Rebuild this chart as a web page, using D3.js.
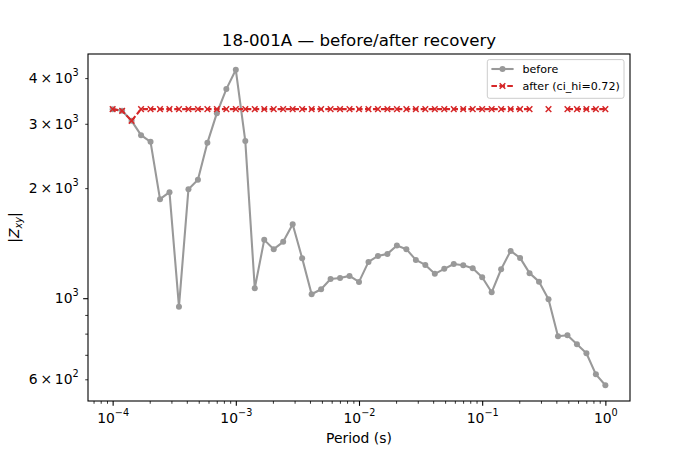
<!DOCTYPE html>
<html lang="en">
<head>
<meta charset="UTF-8">
<script src="https://d3js.org/d3.v7.min.js"></script>
<title>18-001A before/after recovery</title>
<style>
  body { margin: 0; background: #fff; }
  svg text { font-family: "DejaVu Sans", sans-serif; fill: #000; }
</style>
</head>
<body>
<script>
// periods (s), 13 per decade
var periods = [
  1.000e-4, 1.194e-4, 1.425e-4, 1.701e-4, 2.031e-4, 2.424e-4, 2.894e-4, 3.455e-4, 4.125e-4, 4.924e-4, 5.878e-4, 7.017e-4, 8.377e-4,
  1.000e-3, 1.194e-3, 1.425e-3, 1.701e-3, 2.031e-3, 2.424e-3, 2.894e-3, 3.455e-3, 4.125e-3, 4.924e-3, 5.878e-3, 7.017e-3, 8.377e-3,
  1.000e-2, 1.194e-2, 1.425e-2, 1.701e-2, 2.031e-2, 2.424e-2, 2.894e-2, 3.455e-2, 4.125e-2, 4.924e-2, 5.878e-2, 7.017e-2, 8.377e-2,
  1.000e-1, 1.194e-1, 1.425e-1, 1.701e-1, 2.031e-1, 2.424e-1, 2.894e-1, 3.455e-1, 4.125e-1, 4.924e-1, 5.878e-1, 7.017e-1, 8.377e-1,
  1.000
];
var before = [
  3290, 3255, 3057, 2793, 2678, 1866, 1950, 948, 1987, 2108, 2661, 3208, 3733,
  4216, 2690, 1065, 1444, 1362, 1426, 1594, 1287, 1025, 1058, 1129, 1136, 1151,
  1108, 1257, 1305, 1322, 1393, 1362, 1273, 1233, 1166, 1203, 1240, 1231, 1208,
  1141, 1038, 1200, 1347, 1289, 1171, 1110, 994, 787, 792, 748, 707, 619,
  578
];
var after = [
  3290, 3255, 3057, 3290, 3290, 3290, 3290, 3290, 3290, 3290, 3290, 3290, 3290,
  3290, 3290, 3290, 3290, 3290, 3290, 3290, 3290, 3290, 3290, 3290, 3290, 3290,
  3290, 3290, 3290, 3290, 3290, 3290, 3290, 3290, 3290, 3290, 3290, 3290, 3290,
  3290, 3290, 3290, 3290, 3290, 3290, null, 3290, null, 3290, 3290, 3290, 3290,
  3290
];
var seriesNames = ["before", "after (ci_hi=0.72)"];
var xTickExp = [-4, -3, -2, -1, 0];
var yTickVals = [600, 1000, 2000, 3000, 4000];
var yTickMant = ["6", "", "2", "3", "4"];
var yTickExp = [2, 3, 3, 3, 3];
var yMinorVals = [700, 800, 900];

var W = 700, H = 450;
var L = 88, R = 630, T = 54, B = 401;
var grey = "#999999", red = "#d62728";

var svg = d3.select("body").append("svg").attr("width", W).attr("height", H);

// log scales with 5% padding like matplotlib
function padLog(lo, hi) {
  var a = Math.log10(lo), b = Math.log10(hi), s = b - a;
  return [Math.pow(10, a - 0.05 * s), Math.pow(10, b + 0.05 * s)];
}
var x = d3.scaleLog().domain(padLog(d3.min(periods), d3.max(periods))).range([L, R]);
var allY = before.concat(after.filter(function(v){ return v != null; }));
var y = d3.scaleLog().domain(padLog(d3.min(allY), d3.max(allY))).range([B, T]);

// x ticks
var xMajors = xTickExp.map(function(e){ return Math.pow(10, e); });
var xMinors = [];
for (var e = -5; e <= 0; e++) {
  for (var m = 2; m <= 9; m++) {
    var v = m * Math.pow(10, e);
    if (v >= x.domain()[0] && v <= x.domain()[1]) xMinors.push(v);
  }
}

var gx = svg.append("g").attr("transform", "translate(0," + B + ")");
gx.call(d3.axisBottom(x).tickValues(xMinors).tickSize(2.78).tickFormat(""));
gx.selectAll("text").remove();
gx.select(".domain").remove();
gx.selectAll("line").attr("stroke-width", 0.8);

var gx2 = svg.append("g").attr("transform", "translate(0," + B + ")");
gx2.call(d3.axisBottom(x).tickValues(xMajors).tickSize(4.86).tickFormat(""));
gx2.select(".domain").remove();
gx2.selectAll("text").remove();
gx2.selectAll("line").attr("stroke-width", 1.1);
gx2.selectAll(".tick").each(function(d, i) {
  var ex = xTickExp[i];
  var t = d3.select(this).append("text").attr("y", 22.3).attr("text-anchor", "middle")
    .style("font-size", "13.9px");
  t.append("tspan").text("10");
  t.append("tspan").attr("dy", -7).style("font-size", "9.7px")
    .text((ex < 0 ? "\u2212" : "") + Math.abs(ex));
});

// y ticks
var gy = svg.append("g").attr("transform", "translate(" + L + ",0)");
gy.call(d3.axisLeft(y).tickValues(yMinorVals.concat([600, 2000, 3000, 4000])).tickSize(2.78).tickFormat(""));
gy.select(".domain").remove();
gy.selectAll("text").remove();
gy.selectAll("line").attr("stroke-width", 0.8);

var gy2 = svg.append("g").attr("transform", "translate(" + L + ",0)");
gy2.call(d3.axisLeft(y).tickValues([1000]).tickSize(4.86).tickFormat(""));
gy2.select(".domain").remove();
gy2.selectAll("text").remove();
gy2.selectAll("line").attr("stroke-width", 1.1);

yTickVals.forEach(function(v, i) {
  var t = svg.append("text").attr("x", L - 9.3).attr("y", y(v) + 5)
    .attr("text-anchor", "end").style("font-size", "13.9px");
  t.append("tspan").text(yTickMant[i] ? yTickMant[i] + "\u2009\u00d7\u200910" : "10");
  t.append("tspan").attr("dy", -7).style("font-size", "9.7px").text(yTickExp[i]);
});

// data lines
var beforePts = periods.map(function(p, i){ return {p: p, v: before[i]}; });
var afterPts = periods.map(function(p, i){ return {p: p, v: after[i]}; });
var line = d3.line().defined(function(d){ return d.v != null; })
  .x(function(d){ return x(d.p); }).y(function(d){ return y(d.v); });

svg.append("path").datum(beforePts).attr("d", line)
  .attr("fill", "none").attr("stroke", grey).attr("stroke-width", 2.08).attr("stroke-linejoin", "round");
svg.selectAll("circle.before").data(beforePts).join("circle").attr("class", "before")
  .attr("cx", function(d){ return x(d.p); }).attr("cy", function(d){ return y(d.v); })
  .attr("r", 3).attr("fill", grey);

svg.append("path").datum(afterPts).attr("d", line)
  .attr("fill", "none").attr("stroke", red).attr("stroke-width", 2.08)
  .attr("stroke-dasharray", "5.55,2.4");

function xMark(g, cx, cy, s) {
  g.append("path").attr("d", "M" + (cx - s) + "," + (cy - s) + "L" + (cx + s) + "," + (cy + s) +
      "M" + (cx - s) + "," + (cy + s) + "L" + (cx + s) + "," + (cy - s))
    .attr("stroke", red).attr("stroke-width", 1.5).attr("fill", "none");
}
var gm = svg.append("g");
afterPts.filter(function(d){ return d.v != null; }).forEach(function(d) {
  xMark(gm, x(d.p), y(d.v), 2.8);
});

// frame
svg.append("rect").attr("x", L).attr("y", T).attr("width", R - L).attr("height", B - T)
  .attr("fill", "none").attr("stroke", "#000").attr("stroke-width", 1.1);

// title and labels
svg.append("text").attr("x", (L + R) / 2).attr("y", 46).attr("text-anchor", "middle")
  .style("font-size", "16.67px").text("18-001A \u2014 before/after recovery");
svg.append("text").attr("x", (L + R) / 2).attr("y", 443).attr("text-anchor", "middle")
  .style("font-size", "13.9px").text("Period (s)");

var yl = svg.append("text").attr("transform", "translate(19," + ((T + B) / 2) + ") rotate(-90)")
  .attr("text-anchor", "middle").style("font-size", "13.9px");
yl.append("tspan").text("|");
yl.append("tspan").style("font-style", "italic").text("Z");
yl.append("tspan").attr("dy", 2.5).style("font-style", "italic").style("font-size", "9.7px").text("xy");
yl.append("tspan").attr("dy", -2.5).text("|");

// legend
var lg = svg.append("g");
lg.append("rect").attr("x", 487.3).attr("y", 59.6).attr("width", 136.7).attr("height", 38.7)
  .attr("rx", 2.2).attr("fill", "#fff").attr("fill-opacity", 0.8).attr("stroke", "#cccccc").attr("stroke-width", 1);
var rows = [69, 86];
lg.append("line").attr("x1", 491.4).attr("x2", 513.6).attr("y1", rows[0]).attr("y2", rows[0])
  .attr("stroke", grey).attr("stroke-width", 2.08);
lg.append("circle").attr("cx", 502.5).attr("cy", rows[0]).attr("r", 3).attr("fill", grey);
lg.append("line").attr("x1", 491.4).attr("x2", 513.6).attr("y1", rows[1]).attr("y2", rows[1])
  .attr("stroke", red).attr("stroke-width", 2.08).attr("stroke-dasharray", "5.55,2.4");
xMark(lg, 502.5, rows[1], 2.8);
seriesNames.forEach(function(n, i) {
  lg.append("text").attr("x", 522.5).attr("y", rows[i] + 4.2).style("font-size", "11.1px").text(n);
});
</script>
</body>
</html>
